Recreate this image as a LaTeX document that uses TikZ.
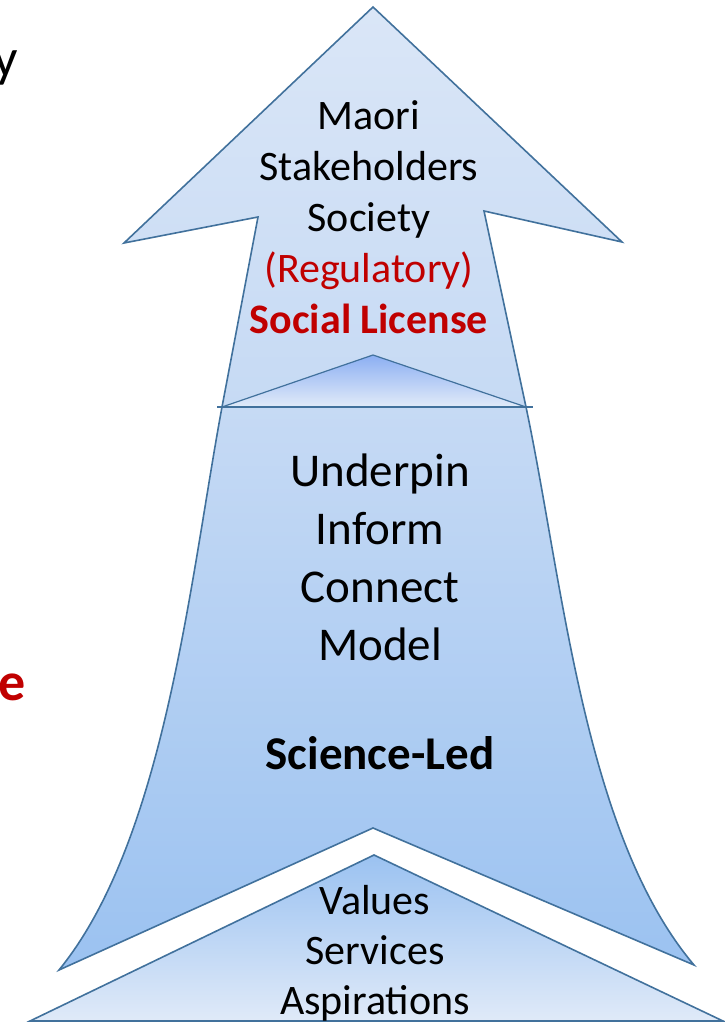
\documentclass[tikz,border=0pt]{standalone}
\usepackage{fontspec}
\setmainfont{Carlito}
\usepackage{tikz}

\definecolor{edgeblue}{RGB}{65,113,156}
\definecolor{darkred}{RGB}{192,0,0}
\definecolor{paleblue}{RGB}{218,230,247}
\definecolor{midblue}{RGB}{198,218,244}
\definecolor{deepblue}{RGB}{155,194,241}

\tikzset{
  outline/.style={draw=edgeblue,line width=1.6pt,line join=miter},
  words/.style={align=center,inner sep=0pt}
}

\begin{document}
\begin{tikzpicture}[x=1pt,y=-1pt]
  \useasboundingbox (0,0) rectangle (725,1022);
  % head of the arrow
  \draw[outline,top color=paleblue,bottom color=midblue] (373,7) -- (622,242) -- (484,211)
    -- (526,407) -- (222,407) -- (258,217) -- (124,243) -- cycle;
  % shaft, widening downwards
  \draw[outline,top color=midblue,bottom color=deepblue] (222,407)
    .. controls (190,580) and (165,840) .. (59,970) -- (373,828) -- (694,965)
    .. controls (584,835) and (563,582) .. (526,407) -- cycle;
  \draw[outline,top color=deepblue!90!blue,bottom color=paleblue!80!white,line width=1.2pt]
    (222,407) -- (373,355) -- (526,407) -- cycle;
  \draw[edgeblue,line width=1.2pt] (217,407) -- (533,407);
  % base triangle
  \draw[outline,top color=deepblue,bottom color=paleblue!85!white] (30,1021) -- (374,855)
    -- (723,1021) -- cycle;

  \node[words,font=\fontsize{42}{51}\selectfont] (society) at (369,217)
    {Maori\\Stakeholders\\Society\\{\color{darkred}(Regulatory)}\\{\color{darkred}\bfseries Social License}};
  \node[words,font=\fontsize{47}{58}\selectfont] (science) at (380,557)
    {Underpin\\Inform\\Connect\\Model};
  \node[words,font=\fontsize{47}{58}\selectfont\bfseries] (led) at (380,753) {Science-Led};
  \node[words,font=\fontsize{42}{50}\selectfont] (values) at (375,953)
    {Values\\Services\\Aspirations};
  \node[words,font=\fontsize{54}{60}\selectfont,anchor=base east] (cuty) at (18,77) {y};
  \node[words,font=\fontsize{54}{60}\selectfont\bfseries,color=darkred,anchor=base east] (cute) at (26,700) {e};
\end{tikzpicture}
\end{document}
